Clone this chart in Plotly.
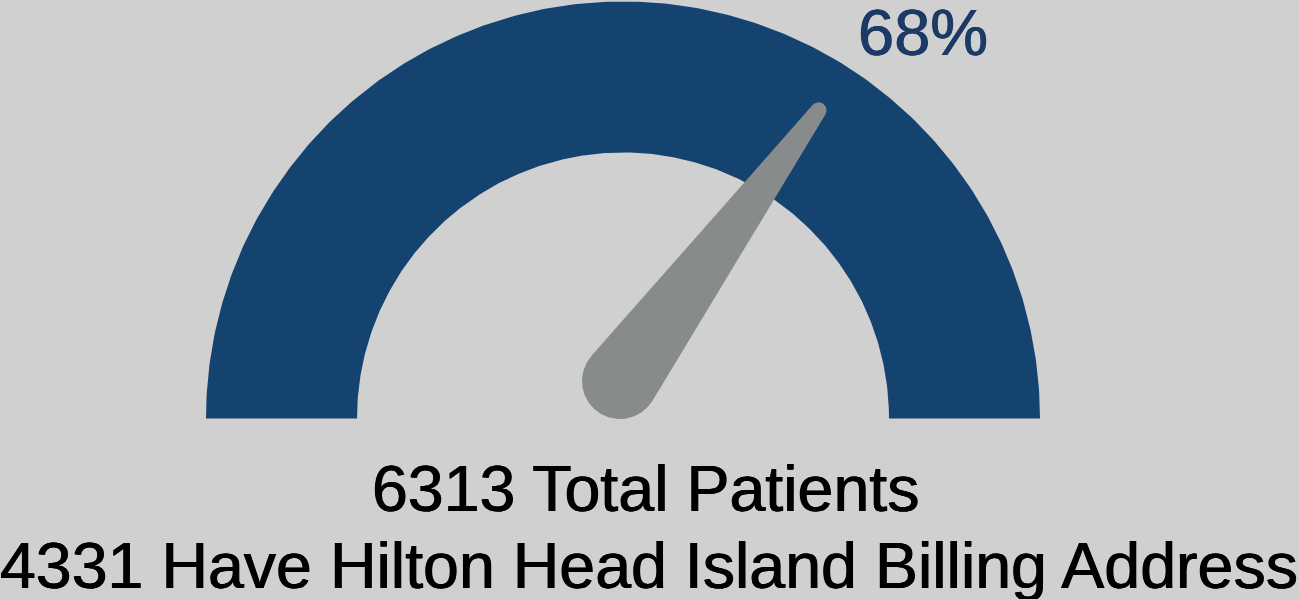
import numpy as np
import plotly.graph_objects as go

# ---- data ----
total_patients = 6313
hhi_patients = 4331
gauge_pct = [68]                     # displayed percentage
label_lines = ["6313 Total Patients", "4331 Have Hilton Head Island Billing Address"]
pct_label = ["68%"]

W, H = 1299, 599
BG = "#d0d0d0"
BLUE = "#14436f"
TEXT_BLUE = "#1b3a66"
GRAY = "#878b8c"

def py(p):  # pixel-from-top -> y-up plot coordinate
    return H - p

# gauge geometry (pixel space)
cx, cy = 623, py(418.5)
R_out, R_in = 417, 266

t = np.linspace(0, np.pi, 300)
arc_x = np.concatenate([cx + R_out * np.cos(t), cx + R_in * np.cos(t[::-1])])
arc_y = np.concatenate([cy + R_out * np.sin(t), cy + R_in * np.sin(t[::-1])])

fig = go.Figure()
fig.add_trace(go.Scatter(x=arc_x, y=arc_y, fill="toself", fillcolor=BLUE,
                         mode="lines", line=dict(color=BLUE, width=0),
                         hoverinfo="skip", showlegend=False))

# needle
ang = np.pi * (1 - gauge_pct[0] / 100.0)
R_tip = 365
tip = np.array([cx + R_tip * np.cos(ang), cy + R_tip * np.sin(ang)])
base = np.array([620, py(381)])
r1, r2 = 38, 8
d = np.linalg.norm(tip - base)
phi = np.arctan2(tip[1] - base[1], tip[0] - base[0])
th = np.arccos((r1 - r2) / d)
a1 = np.linspace(phi + th, phi + 2 * np.pi - th, 120)
a2 = np.linspace(phi - th, phi + th, 40)
nx = np.concatenate([base[0] + r1 * np.cos(a1), tip[0] + r2 * np.cos(a2)])
ny = np.concatenate([base[1] + r1 * np.sin(a1), tip[1] + r2 * np.sin(a2)])
fig.add_trace(go.Scatter(x=nx, y=ny, fill="toself", fillcolor=GRAY,
                         mode="lines", line=dict(color=GRAY, width=0),
                         hoverinfo="skip", showlegend=False))

font = "Liberation Sans, Arial, sans-serif"
bold_blue = "0.5px 0 0 %s, -0.5px 0 0 %s" % (TEXT_BLUE, TEXT_BLUE)
bold_black = "0.5px 0 0 #000, -0.5px 0 0 #000"
fig.add_annotation(x=923, y=py(32), text=pct_label[0], showarrow=False,
                   xanchor="center", yanchor="middle",
                   font=dict(family=font, size=65, color=TEXT_BLUE, shadow=bold_blue))
fig.add_annotation(x=645, y=py(489), text=label_lines[0], showarrow=False,
                   xanchor="center", yanchor="middle",
                   font=dict(family=font, size=64.5, color="#000000", shadow=bold_black))
fig.add_annotation(x=649, y=py(566), text=label_lines[1], showarrow=False,
                   xanchor="center", yanchor="middle",
                   font=dict(family=font, size=64.5, color="#000000", shadow=bold_black))

fig.update_layout(
    width=W, height=H,
    margin=dict(l=0, r=0, t=0, b=0),
    paper_bgcolor=BG, plot_bgcolor=BG,
    xaxis=dict(range=[0, W], visible=False, fixedrange=True),
    yaxis=dict(range=[0, H], visible=False, fixedrange=True),
    showlegend=False,
)
fig.write_html("out.html", config={"displayModeBar": False})
